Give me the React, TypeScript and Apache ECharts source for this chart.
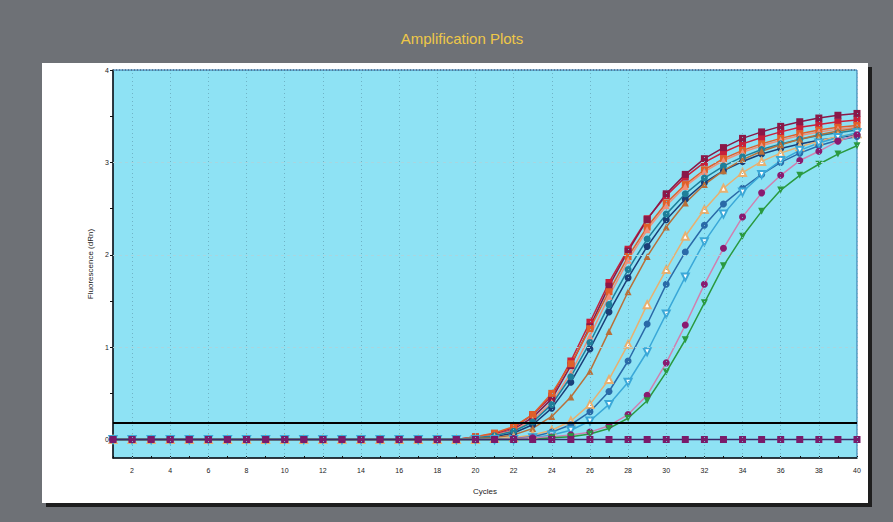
import React, { useEffect, useRef } from "react";
import * as echarts from "echarts";

const cycles = [1,2,3,4,5,6,7,8,9,10,11,12,13,14,15,16,17,18,19,20,21,22,23,24,25,26,27,28,29,30,31,32,33,34,35,36,37,38,39,40];
const flat19 = [0,0,0,0,0,0,0,0,0,0,0,0,0,0,0,0,0,0,0];

const crimson = [...flat19, 0.03,0.06,0.13,0.27,0.47,0.85,1.27,1.70,2.06,2.39,2.64,2.84,3.00,3.11,3.20,3.27,3.33,3.38,3.41,3.44,3.46];
const maroon = [...flat19, 0.02,0.05,0.11,0.24,0.44,0.80,1.22,1.66,2.04,2.38,2.66,2.87,3.04,3.16,3.26,3.33,3.39,3.44,3.48,3.51,3.53];
const orange = [...flat19, 0.03,0.07,0.14,0.27,0.50,0.82,1.20,1.60,1.98,2.30,2.56,2.76,2.92,3.04,3.13,3.20,3.26,3.31,3.35,3.38,3.40];
const salmon = [...flat19, 0.02,0.05,0.10,0.21,0.40,0.72,1.12,1.55,1.94,2.27,2.53,2.74,2.90,3.02,3.11,3.18,3.24,3.29,3.33,3.36,3.38];
const navy = [...flat19, 0.01,0.03,0.07,0.16,0.34,0.62,0.98,1.38,1.75,2.09,2.38,2.60,2.78,2.91,3.01,3.09,3.15,3.20,3.24,3.27,3.30];
const teal = [...flat19, 0.02,0.04,0.09,0.19,0.38,0.68,1.05,1.46,1.84,2.17,2.44,2.66,2.83,2.96,3.06,3.14,3.20,3.25,3.29,3.32,3.35];
const brown = [...flat19, 0.01,0.02,0.05,0.12,0.25,0.46,0.74,1.17,1.60,1.98,2.30,2.56,2.76,2.91,3.03,3.12,3.19,3.25,3.30,3.34,3.37];
const lightOrange = [...flat19, 0,0.01,0.02,0.05,0.10,0.20,0.38,0.65,1.03,1.46,1.84,2.20,2.49,2.72,2.89,3.01,3.10,3.17,3.23,3.28,3.31];
const blue = [...flat19, 0,0,0.01,0.03,0.08,0.16,0.30,0.52,0.85,1.25,1.68,2.03,2.32,2.55,2.72,2.87,3.00,3.10,3.18,3.24,3.28];
const lightBlue = [...flat19, 0,0,0,0.02,0.05,0.10,0.20,0.38,0.62,0.95,1.36,1.76,2.14,2.44,2.68,2.87,3.02,3.13,3.21,3.27,3.32];
const purple = [...flat19, 0,0,0.01,0.02,0.03,0.05,0.08,0.15,0.27,0.48,0.83,1.24,1.68,2.07,2.41,2.67,2.86,3.02,3.12,3.23,3.30];
const green = [...flat19, 0,0,0,0,0.02,0.03,0.06,0.12,0.23,0.42,0.73,1.08,1.48,1.88,2.20,2.47,2.70,2.86,2.98,3.09,3.18];
const ntc = [0,0,0,0,0,0,0,0,0,0,0,0,0,0,0,0,0,0,0,0,0,0,0,0,0,0,0,0,0,0,0,0,0,0,0,0,0,0,0,0];

const threshold = 0.18;
const yLabels = [0, 1, 2, 3, 4];
const yTicks = [0, 0.5, 1, 1.5, 2, 2.5, 3, 3.5, 4];
const xLabels = [2,4,6,8,10,12,14,16,18,20,22,24,26,28,30,32,34,36,38,40];
const hGrid = [1, 2, 3];

const seriesDefs = [
  { name: "A", data: crimson, color: "#c8203a", line: "#c8203a", symbol: "rect", rot: 0 },
  { name: "B", data: maroon, color: "#8a1848", line: "#8a1848", symbol: "rect", rot: 0 },
  { name: "C", data: orange, color: "#e0602a", line: "#e0602a", symbol: "rect", rot: 0 },
  { name: "D", data: salmon, color: "#f0907a", line: "#f0907a", symbol: "triangle", rot: 0 },
  { name: "E", data: navy, color: "#1a3f78", line: "#1a3f78", symbol: "circle", rot: 0 },
  { name: "F", data: teal, color: "#1f7f9a", line: "#1f7f9a", symbol: "circle", rot: 0 },
  { name: "G", data: brown, color: "#b8703a", line: "#b8703a", symbol: "triangle", rot: 0 },
  { name: "H", data: lightOrange, color: "#e8b070", line: "#e8b070", symbol: "emptyTriangle", rot: 0 },
  { name: "I", data: blue, color: "#2a6aa8", line: "#2a6aa8", symbol: "circle", rot: 0 },
  { name: "J", data: lightBlue, color: "#3aa8d8", line: "#3aa8d8", symbol: "emptyTriangle", rot: 180 },
  { name: "K", data: purple, color: "#8a1a70", line: "#d080b0", symbol: "circle", rot: 0 },
  { name: "L", data: green, color: "#2a9a40", line: "#2a9a40", symbol: "triangle", rot: 180 },
];

export default function App() {
  const ref = useRef<HTMLDivElement>(null);
  useEffect(() => {
    if (!ref.current) return;
    const chart = echarts.init(ref.current, undefined, { renderer: "svg" });
    const series: any[] = seriesDefs.map((s) => ({
      type: "line",
      name: s.name,
      data: cycles.map((c, i) => [c, s.data[i]]),
      symbol: s.symbol,
      symbolSize: 7,
      symbolRotate: s.rot,
      lineStyle: { color: s.line, width: 1.5 },
      itemStyle: { color: s.color, borderWidth: s.symbol.startsWith("empty") ? 1.3 : 0 },
      z: 3,
    }));
    series.unshift({
      type: "line",
      name: "grid",
      data: [],
      silent: true,
      markLine: {
        silent: true,
        symbol: "none",
        label: { show: false },
        animation: false,
        data: [
          ...xLabels.map((v) => ({ xAxis: v, lineStyle: { color: "#6fb3c6", type: [1, 3], width: 1 } })),
          ...hGrid.map((v) => ({ yAxis: v, lineStyle: { color: "#a7d6e0", type: [3, 3], width: 1 } })),
          { yAxis: 4, lineStyle: { color: "#4a6f8a", type: [1, 2], width: 1.5 } },
        ],
      },
      z: 1,
    });
    series.push({
      type: "line",
      name: "NTC",
      data: cycles.map((c, i) => [c, ntc[i]]),
      symbol: "rect",
      symbolSize: 7,
      lineStyle: { color: "#3a2a6a", width: 1.6 },
      itemStyle: { color: "#7a1a6a" },
      z: 4,
      markLine: {
        silent: true,
        symbol: "none",
        label: { show: false },
        animation: false,
        data: [{ yAxis: threshold, lineStyle: { color: "#000000", type: "solid", width: 2 } }],
      },
    });

    chart.setOption({
      animation: false,
      backgroundColor: "#6e7176",
      title: {
        text: "Amplification Plots",
        left: 457,
        top: 26,
        textAlign: "center",
        textStyle: { color: "#eec848", fontFamily: "Liberation Sans, Arial", fontSize: 15, fontWeight: "normal" },
      },
      graphic: [
        { type: "rect", shape: { x: 46, y: 67, width: 826, height: 440 }, style: { fill: "#1e1e1e" }, z: -10 },
        { type: "rect", shape: { x: 42, y: 63, width: 826, height: 440 }, style: { fill: "#ffffff" }, z: -9 },
      ],
      grid: {
        left: 113,
        right: 36,
        top: 70,
        bottom: 64,
        show: true,
        backgroundColor: "#8ee2f4",
        borderColor: "#2d6fa8",
        borderWidth: 1,
      },
      xAxis: {
        type: "value",
        min: 1,
        max: 40,
        name: "Cycles",
        nameLocation: "middle",
        nameGap: 29,
        nameTextStyle: { fontSize: 8, color: "#222", fontFamily: "Liberation Sans, Arial" },
        axisLine: { show: true, onZero: false, lineStyle: { color: "#111", width: 1.5 } },
        axisTick: { show: true, inside: true, length: 2, customValues: cycles, lineStyle: { color: "#111" } },
        axisLabel: { customValues: xLabels, fontSize: 7, color: "#222", margin: 9, fontFamily: "Liberation Sans, Arial" },
        splitLine: { show: false },
      },
      yAxis: {
        type: "value",
        min: -0.2,
        max: 4,
        name: "Fluorescence (dRn)",
        nameLocation: "middle",
        nameGap: 18,
        nameTextStyle: { fontSize: 8, color: "#222", fontFamily: "Liberation Sans, Arial" },
        axisLine: { show: true, onZero: false, lineStyle: { color: "#111", width: 1.5 } },
        axisTick: { show: true, length: 3, customValues: yTicks, lineStyle: { color: "#111" } },
        axisLabel: { customValues: yLabels, fontSize: 7, color: "#222", margin: 4, fontFamily: "Liberation Sans, Arial" },
        splitLine: { show: false },
      },
      series,
    });
    return () => chart.dispose();
  }, []);
  return (
    <div
      ref={ref}
      style={{ position: "fixed", left: 0, top: 0, width: 893, height: 522 }}
    />
  );
}
